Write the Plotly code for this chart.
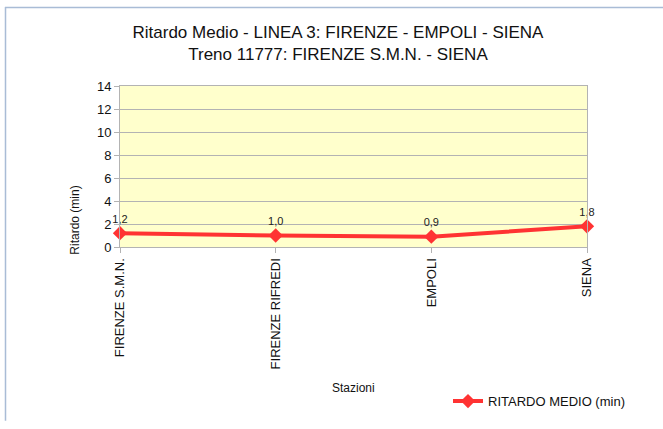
import plotly.graph_objects as go

stations = ["FIRENZE S.M.N.", "FIRENZE RIFREDI", "EMPOLI", "SIENA"]
ritardo = [1.2, 1.0, 0.9, 1.8]
y_ticks = [0, 2, 4, 6, 8, 10, 12, 14]

W, H = 663, 429
L, R, T, B = 120, 76, 86, 178
pw, ph = W - L - R, H - T - B

def px(x):
    return (x - L) / pw

def py(y):
    return (H - B - y) / ph

labels = [f"{v:.1f}".replace(".", ",") for v in ritardo]

fig = go.Figure()
fig.add_trace(go.Scatter(
    x=stations, y=ritardo, mode="lines+markers+text",
    name="RITARDO MEDIO (min)",
    line=dict(color="#ff3333", width=4),
    marker=dict(symbol="diamond", size=11, color="#ff3333"),
    text=labels, textposition="top center",
    textfont=dict(size=11, color="#222222", family="Liberation Sans"),
    cliponaxis=False,
))

fig.update_layout(
    width=W, height=H,
    margin=dict(l=L, r=R, t=T, b=B),
    paper_bgcolor="white",
    plot_bgcolor="#ffffcc",
    font=dict(family="Liberation Sans, Arial, sans-serif", color="#111111"),
    title=dict(
        text="Ritardo Medio - LINEA 3: FIRENZE - EMPOLI - SIENA<br>Treno 11777: FIRENZE S.M.N. - SIENA",
        x=338 / W, xanchor="center", y=1 - 38 / H, yanchor="middle",
        font=dict(size=17, color="#111111"),
    ),
    xaxis=dict(
        type="category", range=[0, 3], tickangle=-90,
        tickfont=dict(size=13, color="#111111"),
        showgrid=False, showline=True, linecolor="#b3b3b3", linewidth=1, mirror=True,
        ticks="outside", ticklen=5, tickcolor="#b3b3b3",
    ),
    yaxis=dict(
        range=[0, 14], tickvals=y_ticks,
        tickfont=dict(size=13, color="#111111"),
        showgrid=True, gridcolor="#b3b3b3", gridwidth=1,
        showline=True, linecolor="#b3b3b3", linewidth=1, mirror=True,
        ticks="outside", ticklen=5, tickcolor="#b3b3b3",
        zeroline=False,
    ),
    showlegend=True,
    legend=dict(
        x=px(448), y=py(409), xanchor="left", yanchor="middle",
        font=dict(size=13, color="#111111"), bgcolor="rgba(0,0,0,0)",
    ),
    annotations=[
        dict(text="Stazioni", x=0.5, y=py(395), xref="paper", yref="paper",
             showarrow=False, font=dict(size=12, color="#111111"), yanchor="middle"),
        dict(text="Ritardo (min)", x=px(75), y=py(224), xref="paper", yref="paper",
             showarrow=False, textangle=-90, font=dict(size=12, color="#111111"),
             xanchor="center", yanchor="middle"),
    ],
    shapes=[
        dict(type="line", xref="paper", yref="paper", x0=px(5), x1=px(663), y0=py(5.5), y1=py(5.5),
             line=dict(color="#a9bcd6", width=1.5)),
        dict(type="line", xref="paper", yref="paper", x0=px(5.5), x1=px(5.5), y0=py(5), y1=py(429),
             line=dict(color="#a9bcd6", width=1.5)),
    ],
)

fig.write_html(
    "out.html",
    config={"displayModeBar": False},
    post_script="document.body.style.margin='0';document.body.style.overflow='hidden';",
)
